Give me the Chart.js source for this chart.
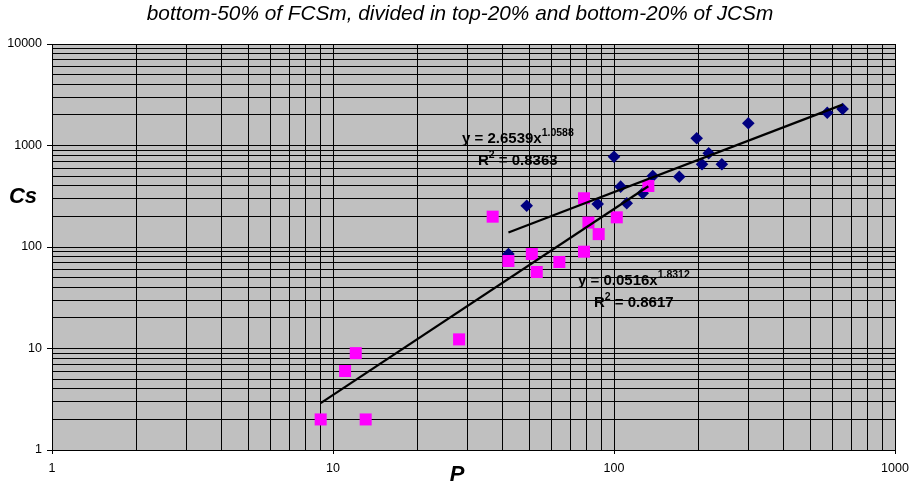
<!DOCTYPE html>
<html>
<head>
<meta charset="utf-8">
<script src="https://cdn.jsdelivr.net/npm/chart.js@4"></script>
<style>
  html, body { margin: 0; padding: 0; background: #fff; }
  #wrap { width: 910px; height: 484px; }
</style>
</head>
<body>
<div id="wrap"><canvas id="chart"></canvas></div>
<script>
// top-20% of JCSm (blue diamonds)
const topP  = [42.1, 48.9, 87.5, 100, 105.6, 111, 126.5, 137.4, 170.7, 196.9, 205.7, 217.3, 242, 300.6, 574, 651];
const topCs = [85.3, 255, 265, 776, 393, 270, 338, 501, 493, 1178, 653, 838, 653, 1655, 2104, 2290];

// bottom-20% of JCSm (magenta squares)
const botP  = [9.04, 11.04, 12.05, 13.07, 28.1, 37, 42.1, 51, 53.1, 63.9, 78.2, 78.2, 81.1, 88.2, 102.3, 132.5];
const botCs = [2, 6, 9, 2, 12.3, 199, 72.8, 85.3, 56.7, 71.2, 302, 89.9, 174, 134, 196, 399];

// power trendline end points
const topTrendP  = [42.1, 651];
const topTrendCs = [139, 2527];
const botTrendP  = [9.04, 132.5];
const botTrendCs = [2.9, 397];

const xTickValues = [1, 10, 100, 1000];
const yTickValues = [1, 10, 100, 1000, 10000];

function toPoints(xs, ys) {
    return xs.map((x, i) => ({ x: x, y: ys[i] }));
}

// all log gridline positions between min and max
function logSteps(min, max) {
    const out = [];
    for (let d = min; d < max; d *= 10) {
        for (let k = 1; k < 10; k++) out.push(d * k);
    }
    out.push(max);
    return out;
}

const FONT = "'Liberation Sans', Arial, sans-serif";

const plotBackground = {
    id: "plotBackground",
    beforeDraw(chart) {
        const { ctx, chartArea: a } = chart;
        ctx.save();
        ctx.fillStyle = "#c0c0c0";
        ctx.fillRect(a.left, a.top, a.right - a.left, a.bottom - a.top);
        ctx.restore();
    }
};

function supText(ctx, x, y, main, sup) {
    ctx.font = "bold 15px " + FONT;
    ctx.fillText(main, x, y);
    const w = ctx.measureText(main).width;
    ctx.font = "bold 10.5px " + FONT;
    ctx.fillText(sup, x + w, y - 7.5);
    return x + w + ctx.measureText(sup).width;
}

const extraText = {
    id: "extraText",
    afterDraw(chart) {
        const ctx = chart.ctx;
        ctx.save();
        ctx.fillStyle = "#000";
        ctx.textBaseline = "alphabetic";

        ctx.textAlign = "center";
        ctx.font = "italic 20.8px " + FONT;
        ctx.fillText("bottom-50% of FCSm, divided in top-20% and bottom-20% of JCSm", 460, 20);

        ctx.font = "bold italic 22px " + FONT;
        ctx.fillText("Cs", 23, 203);
        ctx.fillText("P", 457, 481);

        ctx.textAlign = "left";
        supText(ctx, 462, 143, "y = 2.6539x", "1.0588");
        let x = supText(ctx, 478, 165, "R", "2");
        ctx.font = "bold 15px " + FONT;
        ctx.fillText(" = 0.8363", x, 165);

        supText(ctx, 578, 285, "y = 0.0516x", "1.8312");
        x = supText(ctx, 594, 307, "R", "2");
        ctx.font = "bold 15px " + FONT;
        ctx.fillText(" = 0.8617", x, 307);
        ctx.restore();
    }
};

function axisOptions(min, max, labels, isX) {
    return {
        type: "logarithmic",
        min: min,
        max: max,
        afterBuildTicks: (axis) => {
            axis.ticks = logSteps(min, max).map(v => ({ value: v }));
        },
        afterFit: (axis) => {
            if (isX) {
                axis.height = 34;
                axis.paddingLeft = 0;
                axis.paddingRight = 0;
            } else {
                axis.width = 52;
                axis.paddingTop = 0;
                axis.paddingBottom = 0;
            }
        },
        border: { display: true, color: "#000", width: 1 },
        grid: {
            color: "#000",
            lineWidth: 1,
            tickLength: isX ? 4 : 5,
            tickColor: (c) => labels.includes(c.tick && c.tick.value) ? "#000" : "rgba(0,0,0,0)"
        },
        ticks: {
            autoSkip: false,
            maxRotation: 0,
            padding: isX ? 7 : 5,
            color: "#000",
            font: { family: FONT, size: 12.5 },
            callback: (v) => labels.includes(v) ? String(v) : ""
        }
    };
}

new Chart(document.getElementById("chart"), {
    type: "scatter",
    data: {
        datasets: [
            {
                label: "trend top",
                data: toPoints(topTrendP, topTrendCs),
                showLine: true,
                borderColor: "#000",
                borderWidth: 2.2,
                pointRadius: 0,
                order: 0
            },
            {
                label: "trend bottom",
                data: toPoints(botTrendP, botTrendCs),
                showLine: true,
                borderColor: "#000",
                borderWidth: 2.2,
                pointRadius: 0,
                order: 0
            },
            {
                label: "bottom-20% JCSm",
                data: toPoints(botP, botCs),
                pointStyle: "rect",
                pointRadius: 8.5,
                backgroundColor: "#ff00ff",
                borderWidth: 0,
                order: 1
            },
            {
                label: "top-20% JCSm",
                data: toPoints(topP, topCs),
                pointStyle: "rectRot",
                pointRadius: 6.3,
                backgroundColor: "#000080",
                borderWidth: 0,
                order: 2
            }
        ]
    },
    options: {
        responsive: true,
        maintainAspectRatio: false,
        animation: false,
        layout: { padding: { top: 44, right: 15, left: 0, bottom: 0 } },
        plugins: {
            legend: { display: false },
            tooltip: { enabled: false },
            title: { display: false }
        },
        scales: {
            x: axisOptions(1, 1000, xTickValues, true),
            y: axisOptions(1, 10000, yTickValues, false)
        }
    },
    plugins: [plotBackground, extraText]
});
</script>
</body>
</html>
